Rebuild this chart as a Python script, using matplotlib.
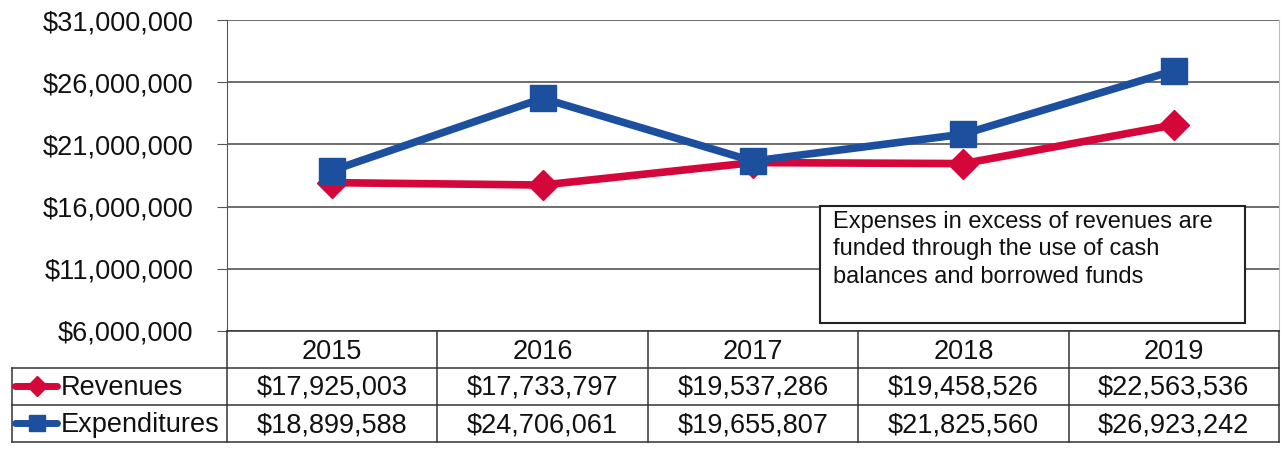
import matplotlib.pyplot as plt
from matplotlib.lines import Line2D
from matplotlib.transforms import blended_transform_factory
from matplotlib.patches import Rectangle

plt.rcParams['font.family'] = ['Liberation Sans', 'DejaVu Sans']

years = ['2015', '2016', '2017', '2018', '2019']
revenues = [17925003, 17733797, 19537286, 19458526, 22563536]
expenditures = [18899588, 24706061, 19655807, 21825560, 26923242]
y_ticks = [6000000, 11000000, 16000000, 21000000, 26000000, 31000000]

red = '#d5073a'
blue = '#1d4f9f'
grid_col = '#555555'

W, H = 1283, 451
fig = plt.figure(figsize=(W / 100, H / 100), dpi=100)
ax = fig.add_axes([227 / W, 1 - 331 / H, (1279 - 227) / W, (331 - 20) / H])

x = list(range(len(years)))
ax.plot(x, revenues, color=red, lw=5.5, marker='D', ms=15, zorder=3)
ax.plot(x, expenditures, color=blue, lw=5.5, marker='s', ms=19, zorder=4)

ax.set_xlim(-0.5, len(years) - 0.5)
ax.set_ylim(y_ticks[0], y_ticks[-1])
ax.set_yticks(y_ticks)
ax.set_yticklabels(['${:,}'.format(v) for v in y_ticks], fontsize=19.5, color='#111111')
ax.tick_params(axis='y', length=7, color=grid_col, pad=17)
ax.set_xticks([])
ax.grid(axis='y', color=grid_col, lw=1.2)
for s in ['top', 'bottom']:
    ax.spines[s].set_visible(False)
ax.spines['left'].set_color(grid_col)
ax.spines['right'].set_color('#bbbbbb')

# note box
box_x0, box_y0, box_x1, box_y1 = 820, 206, 1245, 323
fig.add_artist(Rectangle((box_x0 / W, 1 - box_y1 / H), (box_x1 - box_x0) / W,
                         (box_y1 - box_y0) / H, transform=fig.transFigure,
                         facecolor='white', edgecolor='#222222', lw=1.5, zorder=5))
fig.text(833 / W, 1 - 211 / H,
         'Expenses in excess of revenues are\nfunded through the use of cash\nbalances and borrowed funds',
         fontsize=17, va='top', ha='left', linespacing=1.32, color='#111111', zorder=6)

# data table under the axis
tr = blended_transform_factory(ax.transData, fig.transFigure)
def fy(py):
    return 1 - py / H

line_kw = dict(color='#333333', lw=1.1)

# horizontal rules
for py in [368, 405, 442]:
    fig.add_artist(Line2D([12 / W, 1279 / W], [fy(py), fy(py)], transform=fig.transFigure, **line_kw))
fig.add_artist(Line2D([227 / W, 1279 / W], [fy(331), fy(331)], transform=fig.transFigure, **line_kw))
# vertical rules
for i in range(len(years) + 1):
    fig.add_artist(Line2D([i - 0.5, i - 0.5], [fy(331), fy(442)], transform=tr, **line_kw))
fig.add_artist(Line2D([12 / W, 12 / W], [fy(368), fy(442)], transform=fig.transFigure, **line_kw))

for i, yr in enumerate(years):
    fig.text(i, fy(352), yr, transform=tr, ha='center', va='center', fontsize=19.5, color='#111111')
    fig.text(i, fy(388), '${:,}'.format(revenues[i]), transform=tr, ha='center', va='center',
             fontsize=19.5, color='#111111')
    fig.text(i, fy(425), '${:,}'.format(expenditures[i]), transform=tr, ha='center', va='center',
             fontsize=19.5, color='#111111')

# legend keys inside the table
for py, col, mk, ms, label in [(386, red, 'D', 10, 'Revenues'), (423, blue, 's', 12, 'Expenditures')]:
    fig.add_artist(Line2D([15 / W, 57 / W], [fy(py), fy(py)], transform=fig.transFigure,
                          color=col, lw=5, solid_capstyle='round'))
    fig.add_artist(Line2D([37 / W], [fy(py)], transform=fig.transFigure,
                          color=col, marker=mk, ms=ms, lw=0))
    fig.text(61 / W, fy(388 if label == 'Revenues' else 425), label,
             ha='left', va='center', fontsize=19.5, color='#111111')

fig.savefig('out.png', dpi=100)
